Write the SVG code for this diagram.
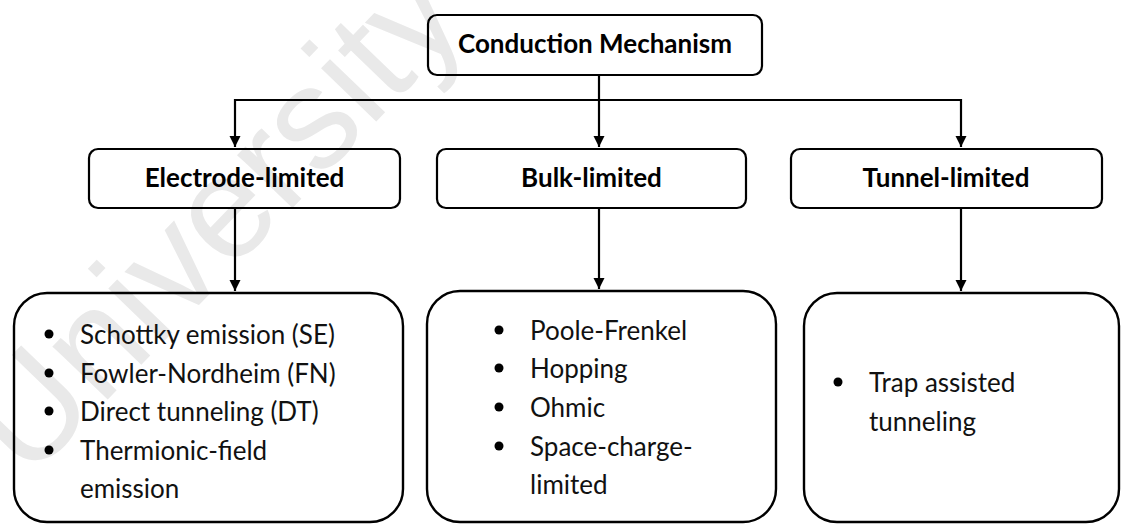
<svg xmlns="http://www.w3.org/2000/svg" width="1121" height="524" viewBox="0 0 1121 524">
<style>
.box{fill:none;stroke:#000;stroke-width:2.2}
.lst{fill:none;stroke:#000;stroke-width:2.4}
.ttl{font-family:Lato,"Open Sans",sans-serif;font-weight:bold;font-size:26px;fill:#000;text-anchor:middle}
.itm{font-family:Lato,"Open Sans",sans-serif;font-size:26px;fill:#111}
.dot{fill:#000}
.con{fill:none;stroke:#000;stroke-width:2.2}
.wm{font-family:"Liberation Sans",Arial,sans-serif;font-size:145px;fill:#e9e9e9}
</style>
<defs>
<marker id="ah" markerUnits="userSpaceOnUse" markerWidth="12" markerHeight="12" viewBox="0 0 12 12" refX="11" refY="6" orient="auto">
<path d="M0,0.5 L11,6 L0,11.5 Z" fill="#000"/>
</marker>
</defs>
<rect width="1121" height="524" fill="#fff"/>
<text class="wm" transform="translate(28,482) rotate(-46)">University</text>
<g id="connectors">
<path class="con" d="M599,75 V147" marker-end="url(#ah)"/>
<path class="con" d="M235,100 H961"/>
<path class="con" d="M235,99 V147" marker-end="url(#ah)"/>
<path class="con" d="M961,99 V147" marker-end="url(#ah)"/>
<path class="con" d="M235,208 V291" marker-end="url(#ah)"/>
<path class="con" d="M599,208 V289" marker-end="url(#ah)"/>
<path class="con" d="M961,208 V291" marker-end="url(#ah)"/>
</g>
<g id="conduction-mechanism">
<rect class="box" x="428" y="15" width="334" height="60" rx="9"/>
<text class="ttl" x="595" y="53">Conduction Mechanism</text>
</g>
<g id="electrode-limited">
<rect class="box" x="89" y="149" width="311" height="59" rx="9"/>
<text class="ttl" x="244.5" y="187">Electrode-limited</text>
</g>
<g id="bulk-limited">
<rect class="box" x="437" y="149" width="309" height="59" rx="9"/>
<text class="ttl" x="591.5" y="187">Bulk-limited</text>
</g>
<g id="tunnel-limited">
<rect class="box" x="791" y="149" width="311" height="59" rx="9"/>
<text class="ttl" x="946" y="187">Tunnel-limited</text>
</g>
<g id="electrode-list">
<rect class="lst" x="14" y="293" width="389" height="229" rx="33"/>
<circle class="dot" cx="49" cy="334" r="4.5"/>
<circle class="dot" cx="49" cy="373" r="4.5"/>
<circle class="dot" cx="49" cy="411" r="4.5"/>
<circle class="dot" cx="49" cy="450" r="4.5"/>
<text class="itm" x="80" y="344">Schottky emission (SE)</text>
<text class="itm" x="80" y="383">Fowler-Nordheim (FN)</text>
<text class="itm" x="80" y="421">Direct tunneling (DT)</text>
<text class="itm" x="80" y="460">Thermionic-field</text>
<text class="itm" x="80" y="498">emission</text>
</g>
<g id="bulk-list">
<rect class="lst" x="427" y="291" width="349" height="231" rx="33"/>
<circle class="dot" cx="499" cy="330" r="4.5"/>
<circle class="dot" cx="499" cy="368" r="4.5"/>
<circle class="dot" cx="499" cy="407" r="4.5"/>
<circle class="dot" cx="499" cy="446" r="4.5"/>
<text class="itm" x="530" y="340">Poole-Frenkel</text>
<text class="itm" x="530" y="378">Hopping</text>
<text class="itm" x="530" y="417">Ohmic</text>
<text class="itm" x="530" y="456">Space-charge-</text>
<text class="itm" x="530" y="494">limited</text>
</g>
<g id="tunnel-list">
<rect class="lst" x="804" y="293" width="315" height="229" rx="33"/>
<circle class="dot" cx="838" cy="382" r="4.5"/>
<text class="itm" x="869" y="392">Trap assisted</text>
<text class="itm" x="869" y="431">tunneling</text>
</g>
</svg>
